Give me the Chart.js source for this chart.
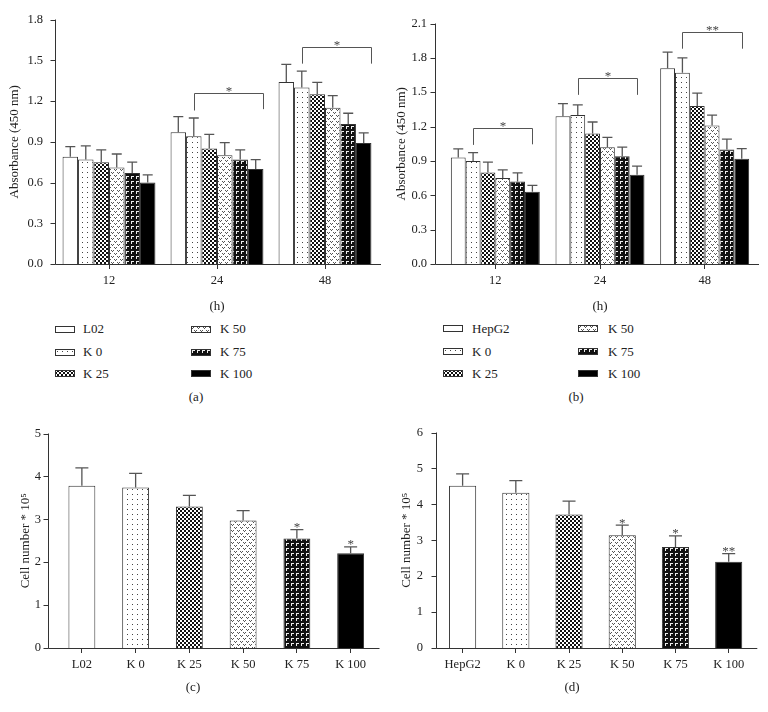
<!DOCTYPE html>
<html>
<head>
<meta charset="utf-8">
<script src="https://cdn.jsdelivr.net/npm/chart.js@4.4.0/dist/chart.umd.min.js"></script>
<style>
    body { margin: 0; background: #fff; }
    #page { position: relative; width: 768px; height: 712px; overflow: hidden; font-family: "Liberation Serif", "Times New Roman", serif; color: #222; }
    #page canvas { position: absolute; }
    .leg-text { position: absolute; font-size: 13px; line-height: 14px; transform: translateY(-50%); white-space: nowrap; }
    .caption { position: absolute; font-size: 13px; transform: translate(-50%, -50%); }
</style>
</head>
<body>
<div id="page">
    <canvas id="chartA" width="384" height="320" style="left:0;top:0"></canvas>
    <canvas id="chartB" width="384" height="320" style="left:384px;top:0"></canvas>
    <canvas id="chartC" width="384" height="300" style="left:0;top:412px"></canvas>
    <canvas id="chartD" width="384" height="300" style="left:384px;top:412px"></canvas>
    <div class="caption" style="left:196px;top:397px">(a)</div>
    <div class="caption" style="left:576px;top:397px">(b)</div>
    <div class="caption" style="left:193px;top:687px">(c)</div>
    <div class="caption" style="left:572px;top:687px">(d)</div>
</div>
<script>
// --- data ---
const hours = ['12', '24', '48'];
const groupsA = ['L02', 'K 0', 'K 25', 'K 50', 'K 75', 'K 100'];
const groupsB = ['HepG2', 'K 0', 'K 25', 'K 50', 'K 75', 'K 100'];

// (a) absorbance per group, across 12 / 24 / 48 h
const absorbA = [
    [0.79, 0.97, 1.34],
    [0.77, 0.94, 1.30],
    [0.75, 0.85, 1.25],
    [0.71, 0.80, 1.15],
    [0.67, 0.77, 1.03],
    [0.60, 0.70, 0.89]
];
const errA = [
    [0.074, 0.115, 0.13],
    [0.10, 0.135, 0.12],
    [0.09, 0.105, 0.087],
    [0.10, 0.093, 0.09],
    [0.08, 0.07, 0.08],
    [0.056, 0.068, 0.075]
];
const bracketGroupA = [1, 2];
const bracketTopA = [1.26, 1.60];
const bracketLegA = [[1.13, 1.14], [1.475, 1.475]];
const bracketMarkA = ['*', '*'];

// (b)
const absorbB = [
    [0.93, 1.29, 1.71],
    [0.90, 1.30, 1.67],
    [0.80, 1.14, 1.38],
    [0.75, 1.02, 1.21],
    [0.72, 0.94, 1.00],
    [0.63, 0.78, 0.92]
];
const errB = [
    [0.076, 0.11, 0.14],
    [0.072, 0.09, 0.13],
    [0.09, 0.10, 0.112],
    [0.072, 0.085, 0.09],
    [0.075, 0.08, 0.09],
    [0.056, 0.075, 0.088]
];
const bracketGroupB = [0, 1, 2];
const bracketTopB = [1.19, 1.62, 2.03];
const bracketLegB = [[1.04, 1.045], [1.477, 1.477], [1.88, 1.88]];
const bracketMarkB = ['*', '*', '**'];

// (c), (d) cell numbers
const cellsC = [3.78, 3.74, 3.30, 2.97, 2.55, 2.21];
const cellErrC = [0.42, 0.33, 0.26, 0.23, 0.21, 0.145];
const cellMarkC = ['', '', '', '', '*', '*'];

const cellsD = [4.52, 4.32, 3.72, 3.14, 2.81, 2.40];
const cellErrD = [0.33, 0.34, 0.37, 0.28, 0.31, 0.23];
const cellMarkD = ['', '', '', '*', '*', '**'];

const fillKeys = ['open', 'dots', 'check', 'wave', 'zig', 'solid'];

// --- hatch fills ---
function tile(ctx, w, h, bg, fg, pts) {
    const c = document.createElement('canvas');
    c.width = w; c.height = h;
    const g = c.getContext('2d');
    g.fillStyle = bg;
    g.fillRect(0, 0, w, h);
    g.fillStyle = fg;
    pts.forEach(([x, y]) => g.fillRect(x, y, 1, 1));
    return ctx.createPattern(c, 'repeat');
}

function makeFills(ctx) {
    return {
        open: '#ffffff',
        dots: tile(ctx, 5, 5, '#ffffff', '#444', [[2, 2]]),
        check: tile(ctx, 4, 4, '#ffffff', '#111', [[2, 0], [3, 0], [2, 1], [3, 1], [0, 2], [1, 2], [0, 3], [1, 3]]),
        wave: tile(ctx, 6, 6, '#ffffff', '#555', [[0, 1], [2, 1], [1, 2], [3, 4], [5, 4], [4, 5]]),
        zig: tile(ctx, 5, 5, '#111', '#eee', [[1, 1], [2, 1], [3, 1], [1, 2], [1, 3]]),
        solid: '#000000'
    };
}

const serif = (size) => ({ family: '"Liberation Serif", "Times New Roman", serif', size: size });

// axes, error bars, significance marks
function figurePlugin(opt) {
    return {
        id: 'figure',
        afterDatasetsDraw(chart) {
            const ctx = chart.ctx;
            const { left, right, top, bottom } = chart.chartArea;
            const ys = chart.scales.y;
            const ax = Math.round(left - opt.gap) + 0.5;
            const by = Math.round(bottom) + 0.5;

            ctx.save();
            ctx.strokeStyle = '#333';
            ctx.lineWidth = 1;
            ctx.beginPath();
            ctx.moveTo(ax, top);
            ctx.lineTo(ax, by);
            ctx.lineTo(right + 2, by);
            ys.ticks.forEach(t => {
                const py = Math.round(ys.getPixelForValue(t.value)) + 0.5;
                ctx.moveTo(ax - 5, py);
                ctx.lineTo(ax, py);
            });
            ctx.stroke();

            ctx.strokeStyle = '#555';
            ctx.lineWidth = 1.3;
            ctx.fillStyle = '#444';
            ctx.font = '13px "Liberation Serif", serif';
            ctx.textAlign = 'center';
            ctx.textBaseline = 'alphabetic';

            chart.data.datasets.forEach((ds, i) => {
                chart.getDatasetMeta(i).data.forEach((bar, j) => {
                    const yTop = ys.getPixelForValue(ds.data[j] + ds.errors[j]);
                    ctx.beginPath();
                    ctx.moveTo(bar.x, bar.y);
                    ctx.lineTo(bar.x, yTop);
                    ctx.moveTo(bar.x - opt.cap / 2, yTop);
                    ctx.lineTo(bar.x + opt.cap / 2, yTop);
                    ctx.stroke();
                    const mark = ds.marks && ds.marks[j];
                    if (mark) ctx.fillText(mark, bar.x, yTop + 1.5);
                });
            });

            (opt.bracketGroups || []).forEach((g, k) => {
                const b0 = chart.getDatasetMeta(1).data[g];
                const b1 = chart.getDatasetMeta(5).data[g];
                const x0 = Math.round(b0.x) + 0.5;
                const x1 = Math.round(b1.x + (opt.edge ? b1.width * 0.45 : 0)) + 0.5;
                const yb = Math.round(ys.getPixelForValue(opt.bracketTops[k])) + 0.5;
                ctx.lineWidth = 1;
                ctx.beginPath();
                ctx.moveTo(x0, ys.getPixelForValue(opt.bracketLegs[k][0]));
                ctx.lineTo(x0, yb);
                ctx.lineTo(x1, yb);
                ctx.lineTo(x1, ys.getPixelForValue(opt.bracketLegs[k][1]));
                ctx.stroke();
                ctx.fillText(opt.bracketMarks[k], (x0 + x1) / 2, yb + 1);
            });
            ctx.restore();
        }
    };
}

function baseOptions(opt) {
    return {
        responsive: false,
        animation: false,
        devicePixelRatio: 1,
        layout: { padding: opt.pad },
        plugins: { legend: { display: false }, tooltip: { enabled: false } },
        scales: {
            x: {
                grid: { display: true, drawOnChartArea: false, offset: false, tickLength: 5, color: '#333' },
                border: { display: false },
                ticks: { color: '#222', font: serif(12.5), padding: 4 },
                title: opt.xTitle
                    ? { display: true, text: opt.xTitle, color: '#222', font: serif(13), padding: { top: 4, bottom: 0 } }
                    : { display: false },
                afterFit: s => { s.height = opt.xHeight; }
            },
            y: {
                min: 0,
                max: opt.yMax,
                grid: { display: false, drawTicks: false },
                border: { display: false },
                ticks: {
                    stepSize: opt.step,
                    padding: opt.tickPad,
                    color: '#222',
                    font: serif(12.5),
                    callback: v => opt.decimals ? v.toFixed(1) : String(Math.round(v))
                },
                title: { display: true, text: opt.yTitle, color: '#222', font: serif(13), padding: { top: opt.titlePad, bottom: 0 } },
                afterFit: s => { s.width = opt.yWidth; }
            }
        }
    };
}

function groupedChart(id, values, errors, names, opt) {
    const ctx = document.getElementById(id).getContext('2d');
    const fills = makeFills(ctx);
    return new Chart(ctx, {
        type: 'bar',
        data: {
            labels: hours,
            datasets: names.map((name, i) => ({
                label: name,
                data: values[i],
                errors: errors[i],
                backgroundColor: fills[fillKeys[i]],
                borderColor: '#333',
                borderWidth: 1,
                categoryPercentage: opt.catPct,
                barPercentage: 1
            }))
        },
        options: baseOptions(opt),
        plugins: [figurePlugin(opt)]
    });
}

function singleChart(id, values, errors, marks, names, opt) {
    const ctx = document.getElementById(id).getContext('2d');
    const fills = makeFills(ctx);
    return new Chart(ctx, {
        type: 'bar',
        data: {
            labels: names,
            datasets: [{
                data: values,
                errors: errors,
                marks: marks,
                backgroundColor: fillKeys.map(k => fills[k]),
                borderColor: '#333',
                borderWidth: 1,
                categoryPercentage: 1,
                barPercentage: opt.barPct
            }]
        },
        options: baseOptions(opt),
        plugins: [figurePlugin(opt)]
    });
}

groupedChart('chartA', absorbA, errA, groupsA, {
    pad: { top: 13, right: 5, bottom: 6, left: 0 },
    yWidth: 55, xHeight: 50, gap: 0, tickPad: 12, titlePad: 7,
    yMax: 1.8, step: 0.3, decimals: true, catPct: 0.86, cap: 10, edge: true,
    yTitle: 'Absorbance (450 nm)', xTitle: '(h)',
    bracketGroups: bracketGroupA, bracketTops: bracketTopA, bracketLegs: bracketLegA, bracketMarks: bracketMarkA
});

groupedChart('chartB', absorbB, errB, groupsB, {
    pad: { top: 13, right: 11, bottom: 6, left: 0 },
    yWidth: 59, xHeight: 50, gap: 8, tickPad: 16, titlePad: 10,
    yMax: 2.1, step: 0.3, decimals: true, catPct: 0.85, cap: 10, edge: false,
    yTitle: 'Absorbance (450 nm)', xTitle: '(h)',
    bracketGroups: bracketGroupB, bracketTops: bracketTopB, bracketLegs: bracketLegB, bracketMarks: bracketMarkB
});

singleChart('chartC', cellsC, cellErrC, cellMarkC, groupsA, {
    pad: { top: 11, right: 6.5, bottom: 0, left: 0 },
    yWidth: 55, xHeight: 64, gap: 7, tickPad: 14, titlePad: 18,
    yMax: 5, step: 1, decimals: false, barPct: 0.5, cap: 13,
    yTitle: 'Cell number * 10\u2075'
});

singleChart('chartD', cellsD, cellErrD, cellMarkD, groupsB, {
    pad: { top: 8, right: 12.7, bottom: 0, left: 0 },
    yWidth: 52, xHeight: 64, gap: 0, tickPad: 13, titlePad: 15,
    yMax: 6, step: 1, decimals: false, barPct: 0.51, cap: 13,
    yTitle: 'Cell number * 10\u2075'
});

// --- legends for (a) and (b) ---
function buildLegend(names, swatchX, textX, rowsY) {
    const page = document.getElementById('page');
    names.forEach((name, i) => {
        const col = Math.floor(i / 3);
        const row = i % 3;
        const sw = document.createElement('canvas');
        sw.width = 20; sw.height = 7;
        sw.style.left = swatchX[col] + 'px';
        sw.style.top = (rowsY[row] - 3.5) + 'px';
        const g = sw.getContext('2d');
        g.fillStyle = makeFills(g)[fillKeys[i]];
        g.fillRect(0, 0, 20, 7);
        g.strokeStyle = '#333';
        g.strokeRect(0.5, 0.5, 19, 6);
        page.appendChild(sw);

        const label = document.createElement('div');
        label.className = 'leg-text';
        label.textContent = name;
        label.style.left = textX[col] + 'px';
        label.style.top = rowsY[row] + 'px';
        page.appendChild(label);
    });
}

buildLegend(groupsA, [55, 191], [83, 220], [329, 352, 373.5]);
buildLegend(groupsB, [443, 578], [472, 608], [328.5, 351.5, 373.5]);
</script>
</body>
</html>
